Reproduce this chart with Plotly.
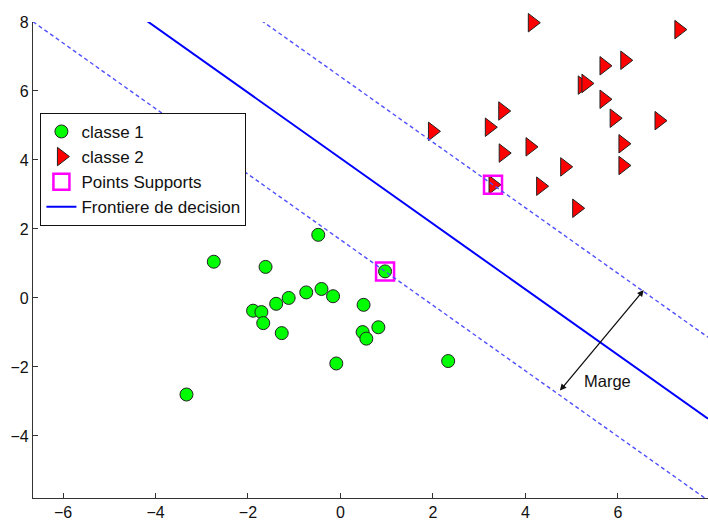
import plotly.graph_objects as go

# Class 1 samples (green circles)
class1_x = [-0.48, -2.74, -1.62, 0.965, -0.74, -0.41, -0.16, -1.12, -1.39, -1.89,
            -1.71, -1.67, -1.27, 0.50, 0.82, 0.48, 0.56, -0.09, 2.33, -3.33]
class1_y = [1.83, 1.05, 0.90, 0.77, 0.16, 0.26, 0.05, 0.00, -0.17, -0.37,
            -0.41, -0.73, -1.02, -0.20, -0.85, -0.99, -1.18, -1.90, -1.83, -2.80]

# Class 2 samples (red triangles)
class2_x = [4.15, 7.32, 5.70, 6.15, 5.23, 5.31, 5.70, 3.51, 3.22, 5.92,
            6.89, 1.99, 3.52, 4.10, 6.11, 4.85, 6.11, 3.30, 4.33, 5.11]
class2_y = [7.98, 7.78, 6.73, 6.89, 6.17, 6.22, 5.76, 5.42, 4.95, 5.21,
            5.14, 4.83, 4.20, 4.38, 4.47, 3.80, 3.84, 3.28, 3.24, 2.60]

# Support vectors
support_x = [0.965, 3.30]
support_y = [0.77, 3.28]

# Separating hyperplane w.x + b = 0, margins at w.x + b = +/-1
w = [0.402, 0.423]
b = -1.714

# Margin arrow end points and label
marge_start = (4.72, -2.73)
marge_end = (6.56, 0.23)
marge_label = (5.77, -2.40)

x_range = [-6.65, 7.95]
y_range = [-5.80, 8.0]
x_ticks = [-6, -4, -2, 0, 2, 4, 6, 8]
x_ticktext = ["\u22126", "\u22124", "\u22122", "0", "2", "4", "6", "8"]
y_ticks = [-4, -2, 0, 2, 4, 6, 8]
y_ticktext = ["\u22124", "\u22122", "0", "2", "4", "6", "8"]


def boundary(level):
    xs = [x_range[0], x_range[1]]
    ys = [(level - b - w[0] * xv) / w[1] for xv in xs]
    return xs, ys


FONT = "Liberation Sans, Arial, Helvetica, sans-serif"

fig = go.Figure()

fig.add_trace(go.Scatter(
    x=class1_x, y=class1_y, mode="markers", name="classe 1", cliponaxis=False,
    marker=dict(symbol="circle", size=13, color="#00ff00",
                line=dict(color="#222222", width=1)),
))
fig.add_trace(go.Scatter(
    x=class2_x, y=class2_y, mode="markers", name="classe 2", cliponaxis=False,
    marker=dict(symbol="triangle-right", size=16, color="#ff0000",
                line=dict(color="#222222", width=1)),
))
fig.add_trace(go.Scatter(
    x=support_x, y=support_y, mode="markers", name="Points Supports",
    cliponaxis=False,
    marker=dict(symbol="square-open", size=18, color="#ff00ff",
                line=dict(color="#ff00ff", width=2.5)),
))

bx, by = boundary(0)
fig.add_trace(go.Scatter(
    x=bx, y=by, mode="lines", name="Frontiere de decision",
    line=dict(color="#0000ff", width=2),
))
for lvl in (1, -1):
    mx, my = boundary(lvl)
    fig.add_trace(go.Scatter(
        x=mx, y=my, mode="lines", showlegend=False,
        line=dict(color="#5050ff", width=1.4, dash="4px,3px"),
    ))

fig.add_annotation(
    x=marge_end[0], y=marge_end[1], ax=marge_start[0], ay=marge_start[1],
    xref="x", yref="y", axref="x", ayref="y", text="",
    showarrow=True, arrowhead=2, startarrowhead=2, arrowside="end+start",
    arrowsize=1, startarrowsize=1, arrowwidth=1.3, arrowcolor="#111111",
)
fig.add_annotation(
    x=marge_label[0], y=marge_label[1], xref="x", yref="y", text="Marge",
    showarrow=False, font=dict(family=FONT, size=16.5, color="#111111"),
)

axis_common = dict(
    showgrid=False, zeroline=False, showline=True, linecolor="#333333",
    linewidth=1.3, ticks="inside", ticklen=5, tickwidth=1.2,
    tickcolor="#333333", mirror=False,
    tickfont=dict(family=FONT, size=16, color="#111111"),
)

fig.update_layout(
    width=708, height=521,
    margin=dict(l=33, r=0, t=22, b=19, pad=0),
    paper_bgcolor="white", plot_bgcolor="white",
    xaxis=dict(range=x_range, tickvals=x_ticks, ticktext=x_ticktext, **axis_common),
    yaxis=dict(range=y_range, tickvals=y_ticks, ticktext=y_ticktext, **axis_common),
    legend=dict(
        x=0.011, y=0.809, xanchor="left", yanchor="top",
        bgcolor="white", bordercolor="#111111", borderwidth=1,
        font=dict(family=FONT, size=17, color="#111111"),
    ),
    showlegend=True,
)

fig.write_html("out.html")
